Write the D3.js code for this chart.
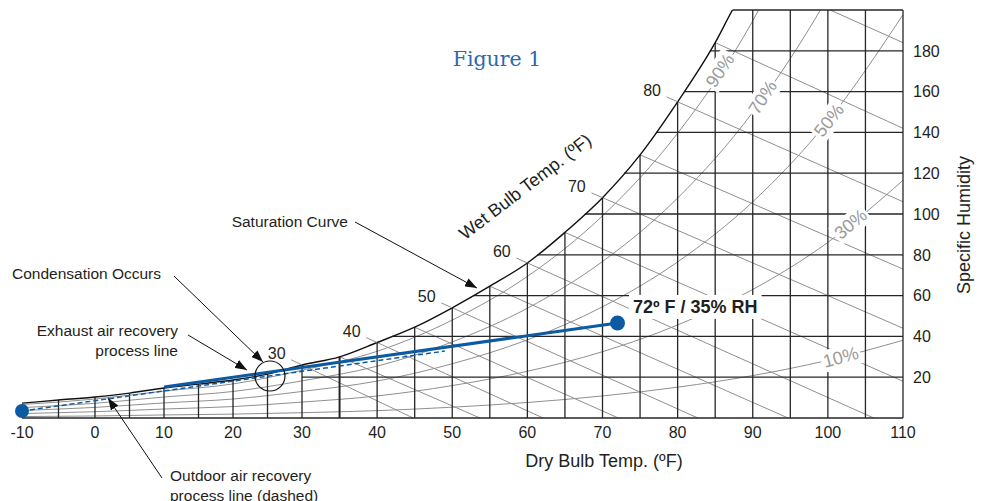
<!DOCTYPE html>
<html><head><meta charset="utf-8">
<script src="https://cdn.jsdelivr.net/npm/d3@7"></script>
<style>
body{margin:0;background:#fff;}
svg{display:block;font-family:"Liberation Sans",Arial,Helvetica,sans-serif;}
</style></head><body>
<svg id="chart" width="984" height="501"></svg>
<script>
// ---------------- data ----------------
const dryBulbTicks = [-10,0,10,20,30,40,50,60,70,80,90,100,110];
const humidityTicks = [20,40,60,80,100,120,140,160,180];
const gridTemps = [-5,0,5,10,15,20,25,30,35,40,45,50,55,60,65,70,75,80,85,90,95,100,105];
const gridHumidity = [20,40,60,80,100,120,140,160,180];
// saturation curve (°F, grains/lb)
const satTemps    = [-10,-5,0,5,10,15,20,25,30,35,40,45,50,55,60,65,70,75,80,85,87.3,90];
const satHumidity = [7.3,8.8,10.3,12.2,14.7,16.6,18.6,21.5,26,30,37,44.5,54,64.6,76,91,108,129,155,184,200,217];
// relative humidity curves
const rhTemps = [-10,0,10,20,30,40,50,60,70,80,90,100,110];
const rh10 = [0.7,1.0,1.5,1.9,2.6,3.6,5.3,7.6,10.8,15.1,20.8,28.3,38.1];
const rh30 = [2.2,3.1,4.4,5.6,7.8,10.8,15.9,22.9,32.5,45.6,63,86.1,116.5];
const rh50 = [3.7,5.2,7.4,9.3,13,18.1,26.6,38.3,54.5,76.5,106,145.5,197.7];
const rh70 = [5.1,7.2,10.3,13,18.2,25.4,37.3,53.8,76.7,107.8,149.9,206.4,280];
const rh90 = [6.6,9.3,13.2,16.7,23.4,32.7,48,69.4,99.1,139.6,194.7,272,370];
const rhNames = ["10%","30%","50%","70%","90%"];
const rhLabelTemps = [101.7,103,100.1,91.3,85.6];
// wet bulb lines: start on saturation, end point
const wbTemps = [30,35,40,45,50,55,60,65,70,75,80,85,90];
const wbEndT  = [44.8,53.7,62.1,72.1,82.7,94.7,106.1,110,110,110,110,110,110];
const wbEndW  = [0,0,0,0,0,0,0,18,44,73,106,142,184];
const wbLabelTemps = [30,40,50,60,70,80];
// process lines
const outdoorLine = [[-10,3.4],[49,32.8]];
const exhaustLine = [[10,15.2],[72,46.6]];
const startPoint = [-10,3.4];
const endPoint = [72,46.6];
const endLabel = "72º F / 35% RH";
const endLabelAt = [74.06,51.5];
const condensationCircle = [25.36,20.6];
// annotations (text anchor position, arrow from -> to, in chart units)
const annotations = [
  {lines:["Saturation Curve"], anchor:"end", at:[36.12,93.6], from:[37.05,96.1], to:[53.29,63.7]},
  {lines:["Condensation Occurs"], anchor:"start", at:[-11.37,68.1], from:[11.45,69.6], to:[24.35,27.45]},
  {lines:["Exhaust air recovery","process line"], anchor:"end", at:[12.03,40.2], from:[13.48,40.7], to:[22.03,23.5]},
  {lines:["Outdoor air recovery","process line (dashed)"], anchor:"start", at:[10.87,-30.9], from:[9.71,-29.4], to:[1.88,9.8]}
];

// ---------------- scales ----------------
const x = d3.scaleLinear().domain([-10,0,30,110]).range([22,95,302,903]);
const y = d3.scaleLinear().domain([0,200]).range([418,10]);
const satAt = d3.scaleLinear().domain(satTemps).range(satHumidity);
const satInv = d3.scaleLinear().domain(satHumidity).range(satTemps);

const svg = d3.select("#chart");
const GRID = "#262626", GRAY = "#8f8f8f", BLUE = "#0b5aa2", TXT = "#231f20";

const defs = svg.append("defs");
defs.append("clipPath").attr("id","boxClip").append("rect")
  .attr("x",x(-10)).attr("y",y(200)).attr("width",x(110)-x(-10)).attr("height",y(0)-y(200));
const areaClip = defs.append("clipPath").attr("id","satClip");
const satPts = satTemps.map((t,i)=>[t,satHumidity[i]]);
areaClip.append("path").attr("d", d3.area().x(d=>x(d[0])).y0(y(0)).y1(d=>y(d[1])).curve(d3.curveMonotoneX)(satPts));
areaClip.append("rect").attr("x",x(87.3)).attr("y",y(200)).attr("width",x(110)-x(87.3)).attr("height",y(0)-y(200));
defs.append("marker").attr("id","arrow").attr("markerUnits","userSpaceOnUse")
  .attr("markerWidth",13).attr("markerHeight",9).attr("refX",12).attr("refY",4.5).attr("orient","auto")
  .append("path").attr("d","M0,0 L12,4.5 L0,9 Z").attr("fill","#111");

const box = svg.append("g").attr("clip-path","url(#boxClip)");
const inner = box.append("g").attr("clip-path","url(#satClip)");

const line = d3.line().x(d=>x(d[0])).y(d=>y(d[1]));
const curve = d3.line().x(d=>x(d[0])).y(d=>y(d[1])).curve(d3.curveMonotoneX);

// RH curves
const rhSeries = [rh10,rh30,rh50,rh70,rh90];
inner.selectAll("path.rh").data(rhSeries).join("path").attr("class","rh")
  .attr("d", s => curve(rhTemps.map((t,i)=>[t,s[i]])))
  .attr("fill","none").attr("stroke",GRAY).attr("stroke-width",1);

// wet bulb lines
const wbData = wbTemps.map((t,i)=>({t, s:[t,satAt(t)], e:[wbEndT[i],wbEndW[i]]}));
inner.selectAll("path.wb").data(wbData).join("path").attr("class","wb")
  .attr("d", d=>line([d.s,d.e])).attr("fill","none").attr("stroke",GRAY).attr("stroke-width",1);

// grid
box.selectAll("line.vg").data(gridTemps).join("line").attr("class","vg")
  .attr("x1",d=>x(d)).attr("x2",d=>x(d)).attr("y1",y(0)).attr("y2",d=>y(Math.min(satAt(d),200)))
  .attr("stroke",GRID).attr("stroke-width",d=>d===35?2:1.3);
box.selectAll("line.hg").data(gridHumidity).join("line").attr("class","hg")
  .attr("y1",d=>y(d)).attr("y2",d=>y(d)).attr("x1",d=>x(Math.max(satInv(d),d<=20?30:-10))).attr("x2",x(110))
  .attr("stroke",GRID).attr("stroke-width",1.3);
// borders
svg.append("line").attr("x1",x(-10)).attr("x2",x(110)).attr("y1",y(0)).attr("y2",y(0)).attr("stroke",GRID).attr("stroke-width",1.6);
svg.append("line").attr("x1",x(110)).attr("x2",x(110)).attr("y1",y(0)).attr("y2",y(200)).attr("stroke",GRID).attr("stroke-width",1.3);
svg.append("line").attr("x1",x(satInv(200))).attr("x2",x(110)).attr("y1",y(200)).attr("y2",y(200)).attr("stroke",GRID).attr("stroke-width",1.3);
// saturation curve
box.append("path").attr("d",curve(satPts)).attr("fill","none").attr("stroke","#111").attr("stroke-width",1.4);

// wet bulb leaders + labels
wbData.filter(d=>wbLabelTemps.includes(d.t)).forEach(d=>{
  const sx=x(d.s[0]), sy=y(d.s[1]), ex=x(d.e[0]), ey=y(d.e[1]);
  const L=Math.hypot(ex-sx,ey-sy), ux=(ex-sx)/L, uy=(ey-sy)/L;
  svg.append("line").attr("x1",sx).attr("y1",sy).attr("x2",sx-12*ux).attr("y2",sy-12*uy)
    .attr("stroke",GRAY).attr("stroke-width",1);
  svg.append("text").attr("x",sx-28*ux).attr("y",sy-28*uy).attr("dy","0.36em")
    .attr("text-anchor","middle").attr("font-size",16).attr("fill",TXT).text(d.t);
});

// helper: white-backed text
function backed(g, pad){
  const t = g.select("text"); const b = t.node().getBBox();
  g.insert("rect","text").attr("x",b.x-pad).attr("y",b.y-pad/2).attr("width",b.width+2*pad).attr("height",b.height+pad).attr("fill","#fff");
}
// RH labels
rhSeries.forEach((s,i)=>{
  const f = d3.scaleLinear().domain(rhTemps).range(s);
  const T = rhLabelTemps[i];
  const px = x(T), py = y(f(T));
  const ang = Math.atan2(y(f(T+1))-y(f(T-1)), x(T+1)-x(T-1))*180/Math.PI;
  const g = svg.append("g").attr("transform",`translate(${px},${py}) rotate(${ang})`);
  g.append("text").attr("text-anchor","middle").attr("dy","0.36em").attr("font-size",18).attr("fill","#9a9a9a").text(rhNames[i]);
  backed(g,2);
});

// process lines
svg.append("path").attr("d",line(outdoorLine)).attr("stroke",BLUE).attr("stroke-width",1.5).attr("stroke-dasharray","5,3").attr("fill","none");
svg.append("path").attr("d",line(exhaustLine)).attr("stroke",BLUE).attr("stroke-width",3).attr("fill","none");
svg.append("circle").attr("cx",x(startPoint[0])).attr("cy",y(startPoint[1])).attr("r",7).attr("fill",BLUE);
svg.append("circle").attr("cx",x(endPoint[0])).attr("cy",y(endPoint[1])).attr("r",7.5).attr("fill",BLUE);
const lg = svg.append("g");
lg.append("text").attr("x",x(endLabelAt[0])).attr("y",y(endLabelAt[1])).attr("font-size",18).attr("font-weight","bold").attr("fill",TXT).text(endLabel);
backed(lg,4);
svg.append("circle").attr("cx",x(condensationCircle[0])).attr("cy",y(condensationCircle[1])).attr("r",15)
  .attr("fill","none").attr("stroke","#111").attr("stroke-width",1.2);

// annotations
annotations.forEach(a=>{
  const t = svg.append("text").attr("x",x(a.at[0])).attr("y",y(a.at[1])).attr("text-anchor",a.anchor)
    .attr("font-size",15.5).attr("fill",TXT);
  a.lines.forEach((l,i)=>t.append("tspan").attr("x",x(a.at[0])).attr("dy",i?20:0).text(l));
  svg.append("line").attr("x1",x(a.from[0])).attr("y1",y(a.from[1])).attr("x2",x(a.to[0])).attr("y2",y(a.to[1]))
    .attr("stroke","#111").attr("stroke-width",1).attr("marker-end","url(#arrow)");
});

// axes tick labels
svg.selectAll("text.xt").data(dryBulbTicks).join("text").attr("class","xt")
  .attr("x",d=>x(d)).attr("y",y(0)+20).attr("text-anchor","middle").attr("font-size",16).attr("fill",TXT).text(d=>d);
svg.selectAll("text.yt").data(humidityTicks).join("text").attr("class","yt")
  .attr("x",x(110)+10).attr("y",d=>y(d)).attr("dy","0.36em").attr("font-size",16).attr("fill",TXT).text(d=>d);
svg.append("text").attr("x",x(70.2)).attr("y",y(0)+49).attr("text-anchor","middle").attr("font-size",18).attr("fill",TXT).text("Dry Bulb Temp. (ºF)");
svg.append("text").attr("transform",`translate(${x(110)+67},${y(94.6)}) rotate(-90)`).attr("text-anchor","middle")
  .attr("font-size",18).attr("fill",TXT).text("Specific Humidity");
svg.append("text").attr("transform",`translate(${x(60.2)},${y(111)}) rotate(-37.5)`).attr("text-anchor","middle")
  .attr("font-size",18).attr("fill",TXT).text("Wet Bulb Temp. (ºF)");
svg.append("text").attr("x",x(55.96)).attr("y",y(172.5)).attr("text-anchor","middle")
  .attr("font-family","'DejaVu Serif',serif").attr("font-size",20.5).attr("fill","#2a6aae").text("Figure 1");
</script>
</body></html>
